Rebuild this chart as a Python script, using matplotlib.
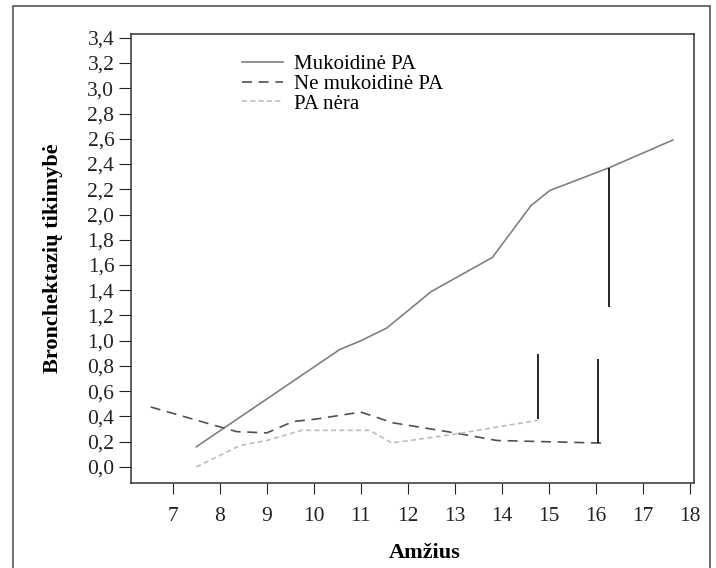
import matplotlib
matplotlib.use("Agg")
import matplotlib.pyplot as plt
from matplotlib.patches import Rectangle

# Mukoidinė PA
x_muk = [7.5, 10.55, 11.0, 11.55, 12.5, 13.8, 14.62, 15.02, 16.28, 17.64]
y_muk = [0.16, 0.93, 1.0, 1.10, 1.39, 1.66, 2.07, 2.19, 2.37, 2.59]

# Ne mukoidinė PA
x_ne = [6.53, 8.07, 8.36, 9.0, 9.56, 10.06, 11.0, 11.68, 13.0, 13.89, 14.95, 16.04, 16.23]
y_ne = [0.475, 0.31, 0.28, 0.27, 0.36, 0.38, 0.435, 0.35, 0.27, 0.21, 0.20, 0.19, 0.19]

# PA nėra
x_nera = [7.5, 8.43, 9.0, 9.74, 11.19, 11.66, 13.0, 14.77]
y_nera = [0.0, 0.17, 0.21, 0.29, 0.29, 0.19, 0.26, 0.37]

# vertikalios linijos (x, y_apacia, y_virsus)
vlines_x = [14.77, 16.04, 16.28]
vlines_lo = [0.38, 0.19, 1.27]
vlines_hi = [0.895, 0.855, 2.37]

yticks = [0.0, 0.2, 0.4, 0.6, 0.8, 1.0, 1.2, 1.4, 1.6, 1.8, 2.0, 2.2, 2.4, 2.6, 2.8, 3.0, 3.2, 3.4]
xticks = list(range(7, 19))

plt.rcParams['font.family'] = ['Liberation Serif', 'DejaVu Serif']
fs = 15.5

W, H = 716, 568
fig = plt.figure(figsize=(W / 100, H / 100), dpi=100)

# outer frame
fig.patches.append(Rectangle((13 / W, -0.01), (710 - 13) / W, (568 - 6) / H + 0.01,
                             transform=fig.transFigure, fill=False,
                             edgecolor='#555555', linewidth=1.2))

ax = fig.add_axes([131 / W, (H - 483) / H, (694 - 131) / W, (483 - 34) / H])

ax.plot(x_muk, y_muk, color='#808080', lw=1.2, label='Mukoidinė PA')
ax.plot(x_ne, y_ne, color='#505050', lw=1.2, dashes=(6, 4), label='Ne mukoidinė PA')
ax.plot(x_nera, y_nera, color='#bdbdbd', lw=1.2, dashes=(3, 2), label='PA nėra')
ax.vlines(vlines_x, vlines_lo, vlines_hi, color='black', lw=1.2)

ax.set_xlim(6.11, 18.09)
ax.set_ylim(-0.127, 3.43)
ax.set_xticks(xticks)
ax.set_yticks(yticks)
ax.set_yticklabels([f"{v:.1f}".replace('.', ',') for v in yticks])
ax.tick_params(axis='both', direction='out', labelsize=fs, colors='#222222')
ax.tick_params(axis='y', length=9, pad=3)
ax.tick_params(axis='x', length=8, pad=9)
for s in ax.spines.values():
    s.set_color('#333333')
    s.set_linewidth(1.1)

ax.set_ylabel('Bronchektazių tikimybė', fontsize=16, fontweight='bold')
ax.yaxis.set_label_coords(-0.121, 0.5)
fig.text(425 / W, 1 - 553 / H, 'Amžius', fontsize=16, fontweight='bold', ha='center', va='center')

leg = ax.legend(loc='upper left', bbox_to_anchor=(0.183, 0.972), frameon=False,
                fontsize=15, handlelength=1.95, handletextpad=0.55, labelspacing=0.0,
                borderaxespad=0.0)

fig.savefig('out.png', dpi=100)
